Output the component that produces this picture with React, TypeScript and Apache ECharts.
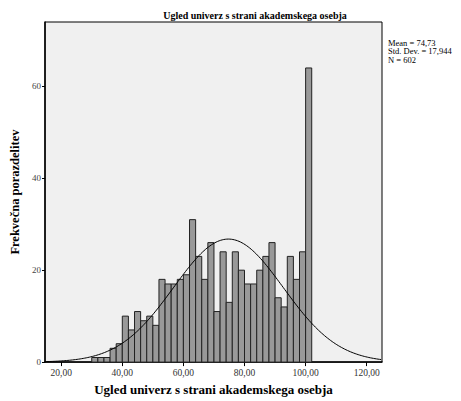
import React, { useEffect, useRef } from "react";
import * as echarts from "echarts";

const binStarts = [30, 32, 34, 36, 38, 40, 42, 44, 46, 48, 50, 52, 54, 56, 58, 60, 62, 64, 66, 68, 70, 72, 74, 76, 78, 80, 82, 84, 86, 88, 90, 92, 94, 96, 98, 100];
const counts = [1, 1, 1, 3, 4, 10, 7, 11, 9, 10, 8, 18, 17, 17, 18, 19, 31, 23, 18, 26, 11, 24, 13, 24, 20, 17, 17, 20, 23, 26, 14, 12, 23, 18, 24, 64];
const binWidth = 2;
const xTicks = [20, 40, 60, 80, 100, 120];
const yTicks = [0, 20, 40, 60];
const statsLines = ["Mean = 74,73", "Std. Dev. = 17,944", "N = 602"];
const MEAN = 74.73;
const SD = 17.944;
const N = 602;
const X_MIN = 14.7;
const X_MAX = 125;

const FONT = "'Liberation Serif', 'Times New Roman', serif";

export default function App() {
  const ref = useRef<HTMLDivElement>(null);
  useEffect(() => {
    if (!ref.current) return;
    const chart = echarts.init(ref.current, undefined, { renderer: "svg" });
    const barData = binStarts.map((s, i) => [s, s + binWidth, counts[i]]);
    const curve: number[][] = [];
    for (let x = X_MIN; x <= X_MAX + 1e-9; x += 0.5) {
      const z = (x - MEAN) / SD;
      curve.push([x, (N * binWidth * Math.exp(-0.5 * z * z)) / (SD * Math.sqrt(2 * Math.PI))]);
    }
    const fmt = (v: number) => v.toFixed(2).replace(".", ",");
    chart.setOption({
      animation: false,
      backgroundColor: "#ffffff",
      title: {
        text: "Ugled univerz s strani akademskega osebja",
        left: 255,
        textAlign: "center",
        top: 10,
        padding: 0,
        textStyle: { fontFamily: FONT, fontSize: 10, fontWeight: "bold", color: "#000" },
      },
      graphic: statsLines.map((t, i) => ({
        type: "text",
        left: 388,
        top: 38 + i * 8.5,
        style: { text: t, font: `8.5px ${FONT}`, fill: "#000" },
      })),
      grid: {
        left: 45,
        right: 79,
        top: 22,
        bottom: 36,
        show: true,
        backgroundColor: "#f0f0f0",
        borderColor: "#000",
        borderWidth: 1,
      },
      xAxis: {
        type: "value",
        min: X_MIN,
        max: X_MAX,
        name: "Ugled univerz s strani akademskega osebja",
        nameLocation: "middle",
        nameGap: 17,
        nameTextStyle: { fontFamily: FONT, fontSize: 13, fontWeight: "bold", color: "#000" },
        splitLine: { show: false },
        axisLine: { show: true, lineStyle: { color: "#000", width: 1.5 } },
        axisTick: { show: true, length: 4, customValues: xTicks, lineStyle: { color: "#000" } },
        axisLabel: {
          customValues: xTicks,
          formatter: (v: number) => fmt(v),
          fontFamily: FONT,
          fontSize: 9.5,
          color: "#333",
          margin: 6,
        },
      },
      yAxis: {
        type: "value",
        min: 0,
        max: 74,
        name: "Frekvečna porazdelitev",
        nameLocation: "middle",
        nameGap: 22,
        nameRotate: 90,
        nameTextStyle: { fontFamily: FONT, fontSize: 12.5, fontWeight: "bold", color: "#000" },
        splitLine: { show: false },
        axisLine: { show: true, lineStyle: { color: "#000", width: 1.5 } },
        axisTick: { show: true, length: 3, customValues: yTicks, lineStyle: { color: "#000" } },
        axisLabel: { customValues: yTicks, fontFamily: FONT, fontSize: 9, color: "#444", margin: 4 },
      },
      series: [
        {
          type: "custom",
          data: barData,
          encode: { x: [0, 1], y: 2 },
          renderItem: (params: any, api: any) => {
            const p0 = api.coord([api.value(0), api.value(2)]);
            const p1 = api.coord([api.value(1), 0]);
            return {
              type: "rect",
              shape: { x: p0[0], y: p0[1], width: p1[0] - p0[0], height: p1[1] - p0[1] },
              style: { fill: "#999999", stroke: "#222", lineWidth: 1 },
            };
          },
          z: 2,
        },
        {
          type: "line",
          data: curve,
          showSymbol: false,
          symbol: "none",
          lineStyle: { color: "#000", width: 1 },
          z: 3,
        },
      ],
    });
    return () => chart.dispose();
  }, []);
  return <div ref={ref} style={{ position: "fixed", left: 0, top: 0, width: 461, height: 401 }} />;
}
